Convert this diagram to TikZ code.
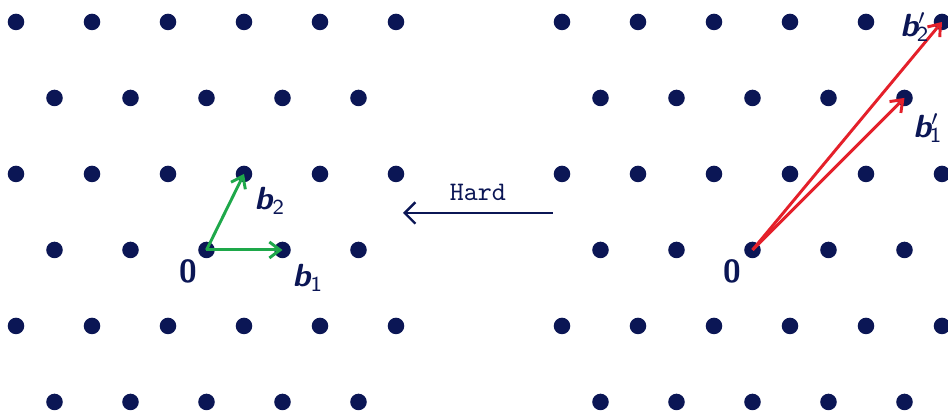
\documentclass[tikz,border=0pt]{standalone}
\usepackage{tikz}
\usetikzlibrary{arrows.meta}
\definecolor{navy}{HTML}{0B1655}
\definecolor{basegreen}{HTML}{1EA84A}
\definecolor{basered}{HTML}{E4202A}
\tikzstyle{dot} = [circle, fill=navy, inner sep=0pt, minimum size=6.2pt]
\tikzstyle{vec} = [line width=1.1pt, -{Straight Barb[length=4pt,width=6pt]}]
\tikzstyle{lbl} = [text=navy, font=\fontsize{12}{14}\selectfont\sffamily\bfseries]
\newcommand{\bvec}[1]{{\slshape b}\textsubscript{\mdseries\upshape #1}}
\newcommand{\bvecp}[1]{{\slshape b}$'$\kern-0.28em\textsubscript{\mdseries\upshape #1}}

\begin{document}
\begin{tikzpicture}
  \useasboundingbox (0,0) rectangle (12.474,5.447);
  % the two lattices
  \foreach \r in {0,...,5}{
    \pgfmathtruncatemacro\odd{mod(\r,2)}
    \pgfmathtruncatemacro\last{5-\odd}
    \foreach \k in {0,...,\last}{
      \node[dot] (L\r-\k) at ({(16+38.5*\odd+76*\k)/76},{(392-76*\r)/76}) {};
      \node[dot] (R\r-\k) at ({(562+38.5*\odd+76*\k)/76},{(392-76*\r)/76}) {};
    }
  }
  % good basis
  \draw[vec, basegreen] (L3-2.center) -- (L3-3.center);
  \draw[vec, basegreen] (L3-2.center) -- (L2-3.center);
  \node[lbl] (zl) at (2.474,1.882) {0};
  \node[lbl] (b1) at (4.053,1.789) {\bvec{1}};
  \node[lbl] (b2) at (3.553,2.803) {\bvec{2}};
  % bad basis
  \draw[vec, basered] (R3-2.center) -- (R1-4.center);
  \draw[vec, basered] (R3-2.center) -- (R0-5.center);
  \node[lbl] (zr) at (9.632,1.882) {0};
  \node[lbl] (b1p) at (12.211,3.763) {\bvecp{1}};
  \node[lbl] (b2p) at (12.039,5.092) {\bvecp{2}};
  % reduction arrow
  \coordinate (hs) at (7.276,2.645);
  \coordinate (he) at (5.303,2.645);
  \draw[navy, line width=0.9pt, -{Straight Barb[length=4pt,width=8pt]}] (hs) -- (he);
  \node[text=navy, font=\ttfamily] (hard) at (6.289,2.921) {Hard};
\end{tikzpicture}
\end{document}
